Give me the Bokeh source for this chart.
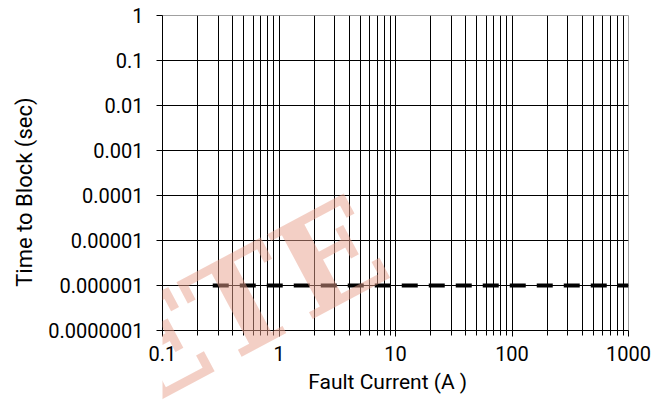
from bokeh.plotting import figure
from bokeh.layouts import column
from bokeh.models import FixedTicker, CustomJSTickFormatter
from bokeh.core.properties import value
from bokeh.embed import file_html
from bokeh.resources import INLINE

# ---- data ----
x_limits = [0.1, 1000]
y_limits = [1e-7, 1]
x_ticks = [0.1, 1, 10, 100, 1000]
x_labels = ["0.1", "1", "10", "100", "1000"]
y_ticks = [1e-7, 1e-6, 1e-5, 1e-4, 1e-3, 1e-2, 0.1, 1]
y_labels = ["0.0000001", "0.000001", "0.00001", "0.0001", "0.001", "0.01", "0.1", "1"]
curve_x = [0.27, 1000]
curve_y = [1e-6, 1e-6]
x_title = "Fault Current (A )"
y_title = "Time to Block (sec)"
watermark_text = "OBSOLETE"

W, H = 654, 404
x_minor = [m * 10.0 ** e for e in range(-1, 3) for m in range(2, 10)]

p = figure(width=W, height=H, x_axis_type="log", y_axis_type="log",
           x_range=(x_limits[0], x_limits[1]), y_range=(y_limits[0], y_limits[1]),
           output_backend="svg", toolbar_location=None)
p.min_border_left = 162
p.min_border_right = 26
p.min_border_top = 15
p.min_border_bottom = 74
p.background_fill_color = "white"
p.border_fill_color = "white"
p.outline_line_color = "#a0a0a0"

xt = FixedTicker(ticks=x_ticks, minor_ticks=x_minor)
yt = FixedTicker(ticks=y_ticks, minor_ticks=[])
fmt_code = """
for (let i = 0; i < vals.length; i++) {
  if (Math.abs(Math.log10(tick) - Math.log10(vals[i])) < 1e-6) return labs[i];
}
return "";
"""
p.xaxis.ticker = xt
p.yaxis.ticker = yt
p.xaxis.formatter = CustomJSTickFormatter(args=dict(vals=x_ticks, labs=x_labels), code=fmt_code)
p.yaxis.formatter = CustomJSTickFormatter(args=dict(vals=y_ticks, labs=y_labels), code=fmt_code)

for ax in (p.xaxis[0], p.yaxis[0]):
    ax.axis_line_color = "black"
    ax.major_tick_line_color = "black"
    ax.minor_tick_line_color = "black"
    ax.major_tick_out = 6
    ax.major_tick_in = 0
    ax.minor_tick_out = 5
    ax.minor_tick_in = 0
    ax.major_label_text_font = "Roboto"
    ax.major_label_text_font_size = "20px"
    ax.major_label_text_color = "black"
    ax.axis_label_text_font = "Roboto"
    ax.axis_label_text_font_style = "normal"
    ax.axis_label_text_color = "black"

NB = "\u00a0"
p.xaxis.axis_label_text_font_size = "21px"
p.yaxis.axis_label_text_font_size = "22px"
p.xaxis.axis_label = x_title + NB * 3
p.yaxis.axis_label = y_title + NB * 7
p.xaxis.major_label_standoff = 9
p.yaxis.major_label_standoff = 13
p.xaxis.axis_label_standoff = 6
p.yaxis.axis_label_standoff = 8

p.xgrid.ticker = xt
p.ygrid.ticker = yt
p.xgrid.grid_line_color = "black"
p.xgrid.minor_grid_line_color = "black"
p.xgrid.grid_line_width = 1
p.ygrid.grid_line_color = "black"
p.ygrid.grid_line_width = 1

p.line(curve_x, curve_y, line_color="black", line_width=4, line_dash="16 11")

# transparent overlay figure carrying the watermark, so it is not clipped to the frame
wmfig = figure(width=W, height=H, x_range=(0, W), y_range=(0, H),
               output_backend="svg", toolbar_location=None, min_border=0,
               x_axis_location=None, y_axis_location=None)
wmfig.grid.visible = False
wmfig.outline_line_color = None
wmfig.background_fill_alpha = 0
wmfig.border_fill_alpha = 0
wmfig.text(x=[297], y=[171], text=[watermark_text], angle=0.49,
           text_align="right", text_baseline="alphabetic",
           text_font=value("DejaVu Serif"), text_font_style="bold",
           text_font_size="132px", text_color="#E8A08C", text_alpha=0.5)
wmfig.margin = (-H, 0, 0, 0)

layout = column(p, wmfig, spacing=0)
open("out.html", "w").write(file_html(layout, INLINE))
